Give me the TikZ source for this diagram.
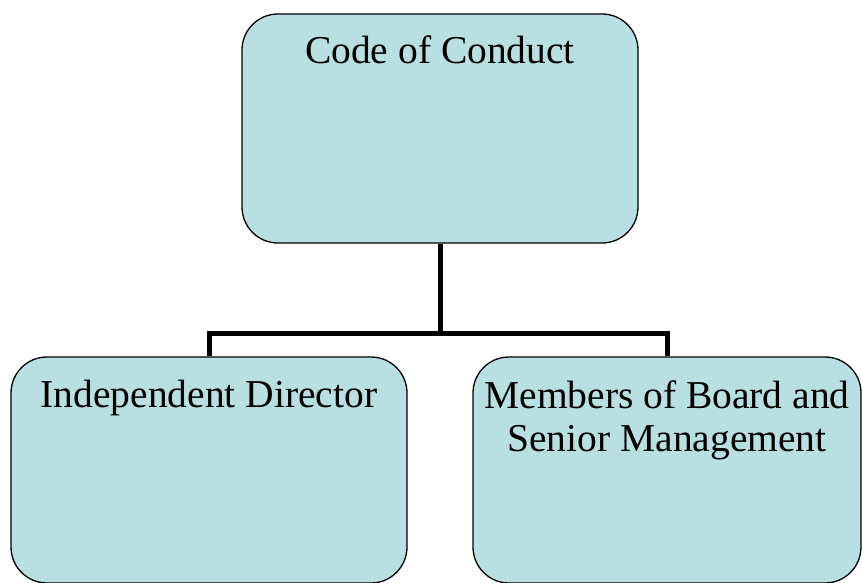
\documentclass[tikz,border=0pt]{standalone}
\usepackage{fontspec}
\setmainfont{Liberation Serif}
\usepackage{xcolor}
\usepackage{tikz}
\usetikzlibrary{positioning, calc}
\definecolor{boxfill}{HTML}{B8DFE2}

\begin{document}
\begin{tikzpicture}[
  x=1pt, y=-1pt,
  orgbox/.style={
    rectangle,
    rounded corners=36pt,
    draw=black,
    line width=1.3pt,
    fill=boxfill,
    minimum width=#1,
    inner sep=0pt
  },
  boxtext/.style={
    anchor=north,
    inner sep=0pt,
    align=center,
    font=\fontsize{39.5}{43}\selectfont
  },
  link/.style={
    draw=black,
    line width=5pt
  }
]
  \useasboundingbox (0,0) rectangle (862,583);

  \node[orgbox=396pt, minimum height=229pt,
        label={[boxtext, yshift=-22pt]north:Code of Conduct}] (code) at (440,128.5) {};
  \node[orgbox=396pt, minimum height=226pt,
        label={[boxtext, yshift=-24pt]north:Independent Director}] (indep) at (209,470) {};
  \node[orgbox=388pt, minimum height=226pt,
        label={[boxtext, yshift=-24pt]north:Members of Board and\\Senior Management}] (board) at (667,470) {};

  \coordinate (bus) at (440,333);
  \draw[link] (code.south) -- (bus);
  \draw[link] (bus) -| (indep.north);
  \draw[link] (bus) -| (board.north);
\end{tikzpicture}
\end{document}
